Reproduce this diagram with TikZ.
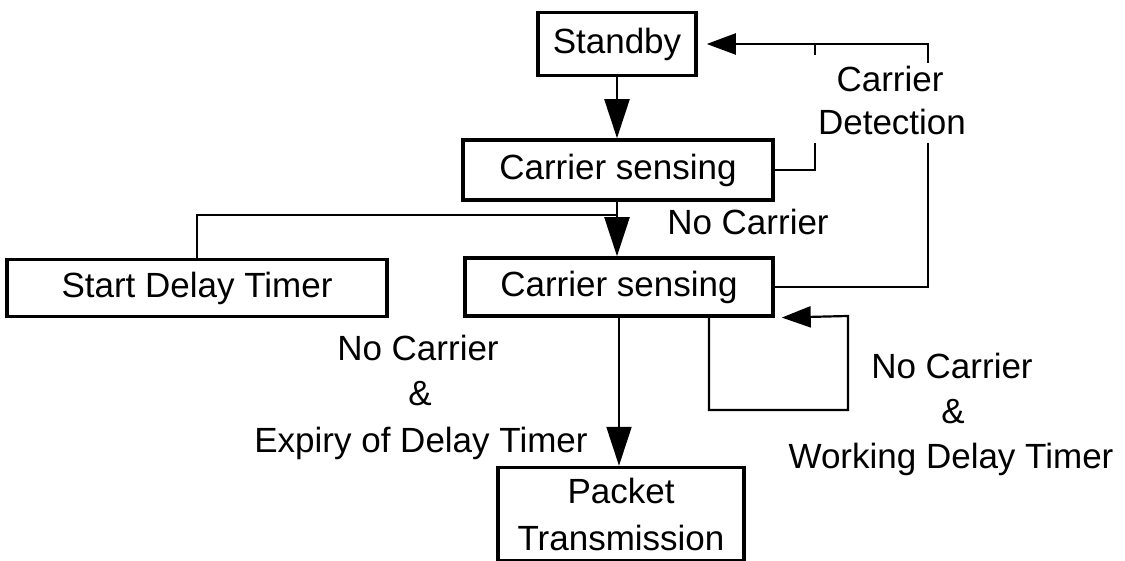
\documentclass[tikz,border=0pt]{standalone}
\usepackage{fontspec}
\setmainfont{Liberation Sans}
\usetikzlibrary{arrows.meta}
\begin{document}
\begin{tikzpicture}[x=1pt,y=-1pt,
  txt/.style={font=\fontsize{35}{47}\selectfont},
  box/.style={txt, draw, line width=3.5pt, inner sep=0pt, align=center},
  conn/.style={line width=2.2pt},
  arr/.style={conn, -{Triangle[length=39pt,width=25pt]}},
  harr/.style={conn, -{Triangle[length=29pt,width=21pt]}},
  lbl/.style={txt, inner sep=0pt, anchor=base}]
\useasboundingbox (0,0) rectangle (1125,561);

% state boxes
\node[box, minimum width=158pt, minimum height=63pt] (standby) at (617,44) {Standby};
\node[box, minimum width=310pt, minimum height=60pt] (cs1) at (618,170) {Carrier sensing};
\node[box, minimum width=380pt, minimum height=57pt] (sdt) at (197,288) {Start Delay Timer};
\node[box, minimum width=308pt, minimum height=58pt] (cs2) at (619,287) {Carrier sensing};
\node[box, minimum width=246pt, minimum height=93pt] (pkt) at (621,514) {Packet\\Transmission};

% main flow
\draw[arr] (standby.south) -- (standby.south |- cs1.north);
\coordinate (split) at (617,215);
\draw[conn] (cs1.south -| split) -- (split) -| (sdt.north);
\draw[arr] (split) -- (split |- cs2.north);
\draw[arr] (cs2.south) -- (cs2.south |- pkt.north);

% carrier detection: return to standby
\coordinate (cdlow) at (815,143);
\coordinate (cdhigh) at (815,55);
\coordinate (corner) at (928,44);
\coordinate (rtick) at (928,63);
\coordinate (rlow) at (928,143);
\draw[conn] (cs1.east) -| (cdlow);
\draw[conn] (cdhigh) -- (cdhigh |- corner);
\draw[harr, shorten >=9pt] (rtick) -- (corner) -- (standby.east);
\draw[conn] (rlow) |- (cs2.east);

% self loop while the delay timer runs
\coordinate (lp1) at (709,410);
\coordinate (lp2) at (848,316);
\draw[harr, shorten >=7pt] (cs2.south -| lp1) -- (lp1) -| (lp2) -- (cs2.south east);

% labels
\node[lbl] (cdt1) at (890,92) {Carrier};
\node[lbl] (cdt2) at (892,135) {Detection};
\node[lbl] (nc0) at (748,235) {No Carrier};
\node[lbl] (nc1) at (418,360) {No Carrier};
\node[lbl] (amp1) at (420,406) {\&};
\node[lbl] (exp1) at (421,452) {Expiry of Delay Timer};
\node[lbl] (nc2) at (952,378) {No Carrier};
\node[lbl] (amp2) at (953,424) {\&};
\node[lbl] (wk2) at (951,468) {Working Delay Timer};
\end{tikzpicture}
\end{document}
